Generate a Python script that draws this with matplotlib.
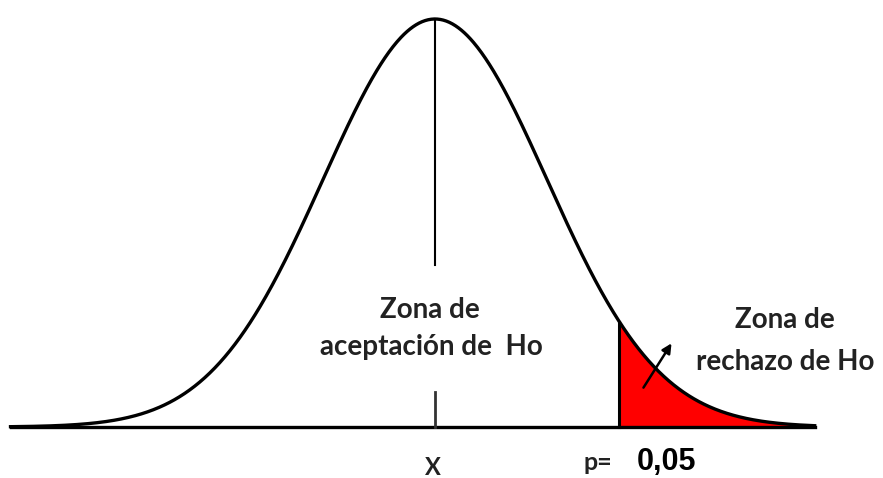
import numpy as np
import matplotlib
matplotlib.use("Agg")
import matplotlib.pyplot as plt

# --- data ---
mean = 0.0
sd = 1.0
z_crit = 1.645          # critical value for p = 0.05 (one tail)
x_range = [-3.79, 3.39]  # drawn range of the baseline / curve
p_label = "0,05"
accept_text = ["Zona de", "aceptación de  Ho"]
reject_text = ["Zona de", "rechazo de Ho"]
center_label = "X"

W, H = 883, 478
fig = plt.figure(figsize=(W / 100, H / 100), dpi=100)
ax = fig.add_axes([0, 0, 1, 1])
ax.set_axis_off()

# pixel mapping helpers (used only for axis limits)
cx, spx = 435.0, 112.0
base_py, top_py = 427.0, 19.0
peak = 1 / (sd * np.sqrt(2 * np.pi))
vpp = peak / (base_py - top_py)
ax.set_xlim((0 - cx) / spx, (W - cx) / spx)
ax.set_ylim((base_py - H) * vpp, (base_py - 0) * vpp)

x = np.linspace(x_range[0], x_range[1], 800)
pdf = np.exp(-0.5 * ((x - mean) / sd) ** 2) / (sd * np.sqrt(2 * np.pi))

# rejection region
mask = x >= z_crit
ax.fill_between(x[mask], 0, pdf[mask], color="#ff0000", zorder=1, linewidth=0)
ycrit = np.exp(-0.5 * ((z_crit - mean) / sd) ** 2) / (sd * np.sqrt(2 * np.pi))
ax.plot([z_crit, z_crit], [0, ycrit], color="black", lw=2.2, zorder=3)

# curve and baseline
ax.plot(x, pdf, color="black", lw=2.4, zorder=3)
ax.plot([x_range[0], x_range[1]], [0, 0], color="black", lw=2.4, zorder=3)

# center line and tick
ax.plot([mean, mean], [peak, (base_py - 265) * vpp], color="black", lw=1.5, zorder=3)
ax.plot([mean, mean], [(base_py - 392) * vpp, 0], color="#333333", lw=2.0, zorder=3)

# arrow
ax.annotate("", xy=(2.125, 0.0841), xytext=(1.848, 0.0362),
            arrowprops=dict(arrowstyle="-|>", color="black", lw=1.8,
                            mutation_scale=14), zorder=4)

font = ["Lato", "DejaVu Sans"]
tc = "#222222"
ax.text(-0.045, 0.1144, accept_text[0], ha="center", va="center", fontsize=20,
        fontweight="bold", family=font, color=tc)
ax.text(-0.036, 0.0782, accept_text[1], ha="center", va="center", fontsize=20,
        fontweight="bold", family=font, color=tc)
ax.text(3.125, 0.1046, reject_text[0], ha="center", va="center", fontsize=20,
        fontweight="bold", family=font, color=tc)
ax.text(3.125, 0.0636, reject_text[1], ha="center", va="center", fontsize=20,
        fontweight="bold", family=font, color=tc)
ax.text(-0.018, -0.040, center_label, ha="center", va="center", fontsize=17,
        fontweight="bold", family=font, color=tc)
ax.text(1.455, -0.0352, "p=", ha="center", va="center", fontsize=18,
        fontweight="bold", family=font, color=tc)
ax.text(2.0625, -0.0342, p_label, ha="center", va="center", fontsize=22,
        fontweight="bold", family=["Liberation Sans", "DejaVu Sans"], color="black")

fig.savefig("out.png", dpi=100)
